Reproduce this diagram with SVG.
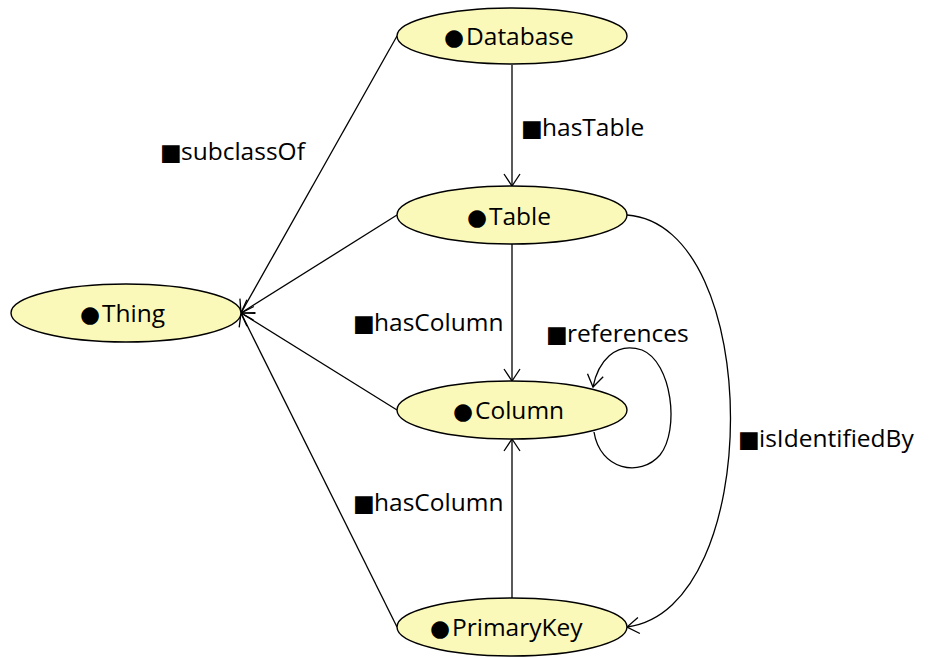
<svg xmlns="http://www.w3.org/2000/svg" width="929" height="658" viewBox="0 0 929 658">
  <style>
    .node ellipse { fill: #fbf9b9; stroke: #000; stroke-width: 1.4; }
    .txt { font-family: "Open Sans", "Noto Sans", sans-serif; font-size: 24.5px; fill: #000; }
    .sym { font-family: "DejaVu Sans", sans-serif; font-size: 23px; }
    .edge { fill: none; stroke: #000; stroke-width: 1.3; marker-end: url(#arrow); }
  </style>
  <defs>
    <marker id="arrow" markerUnits="userSpaceOnUse" viewBox="0 0 14 18" refX="13" refY="9" markerWidth="14" markerHeight="18" orient="auto">
      <path d="M1,1 L13,9 L1,17" fill="none" stroke="#000" stroke-width="1.3"/>
    </marker>
  </defs>

  <rect width="929" height="658" fill="#fff"/>

  <!-- connectors -->
  <g id="edges">
    <!-- subclassOf -->
    <path class="edge" d="M397,36 L241,313"/>
    <path class="edge" d="M397,215 L241,313"/>
    <path class="edge" d="M397,410 L241,313"/>
    <path class="edge" d="M397,627 L241,313"/>
    <!-- hasTable -->
    <path class="edge" d="M512,65 L512,186"/>
    <!-- hasColumn (Table to Column) -->
    <path class="edge" d="M512,244 L512,381"/>
    <!-- hasColumn (PrimaryKey to Column) -->
    <path class="edge" d="M512,598 L512,439"/>
    <!-- isIdentifiedBy -->
    <path class="edge" d="M627,215 C765,225 765,610 627,627"/>
    <!-- references (self loop) -->
    <path class="edge" d="M594,432 C600,470 640,478 660,455 C680,430 672,362 642,350 C615,341 598,362 593,387"/>

    <text class="txt" y="160"><tspan class="sym" x="160">■</tspan><tspan x="181">subclassOf</tspan></text>
    <text class="txt" y="136"><tspan class="sym" x="521">■</tspan><tspan x="542">hasTable</tspan></text>
    <text class="txt" y="331"><tspan class="sym" x="353">■</tspan><tspan x="374">hasColumn</tspan></text>
    <text class="txt" y="342"><tspan class="sym" x="546">■</tspan><tspan x="567">references</tspan></text>
    <text class="txt" y="447"><tspan class="sym" x="738">■</tspan><tspan x="759">isIdentifiedBy</tspan></text>
    <text class="txt" y="511"><tspan class="sym" x="353">■</tspan><tspan x="374">hasColumn</tspan></text>
  </g>

  <!-- nodes -->
  <g id="thing" class="node">
    <ellipse cx="126" cy="313" rx="115" ry="29"/>
    <text class="txt" y="322"><tspan class="sym" x="80">●</tspan><tspan x="102">Thing</tspan></text>
  </g>
  <g id="database" class="node">
    <ellipse cx="512" cy="36" rx="115" ry="28"/>
    <text class="txt" y="45"><tspan class="sym" x="444">●</tspan><tspan x="466">Database</tspan></text>
  </g>
  <g id="table" class="node">
    <ellipse cx="512" cy="215" rx="115" ry="29"/>
    <text class="txt" y="225"><tspan class="sym" x="467">●</tspan><tspan x="489">Table</tspan></text>
  </g>
  <g id="column" class="node">
    <ellipse cx="512" cy="410" rx="115" ry="29"/>
    <text class="txt" y="419"><tspan class="sym" x="453">●</tspan><tspan x="475">Column</tspan></text>
  </g>
  <g id="primarykey" class="node">
    <ellipse cx="512" cy="627" rx="115" ry="29"/>
    <text class="txt" y="636"><tspan class="sym" x="430">●</tspan><tspan x="452">PrimaryKey</tspan></text>
  </g>
</svg>
